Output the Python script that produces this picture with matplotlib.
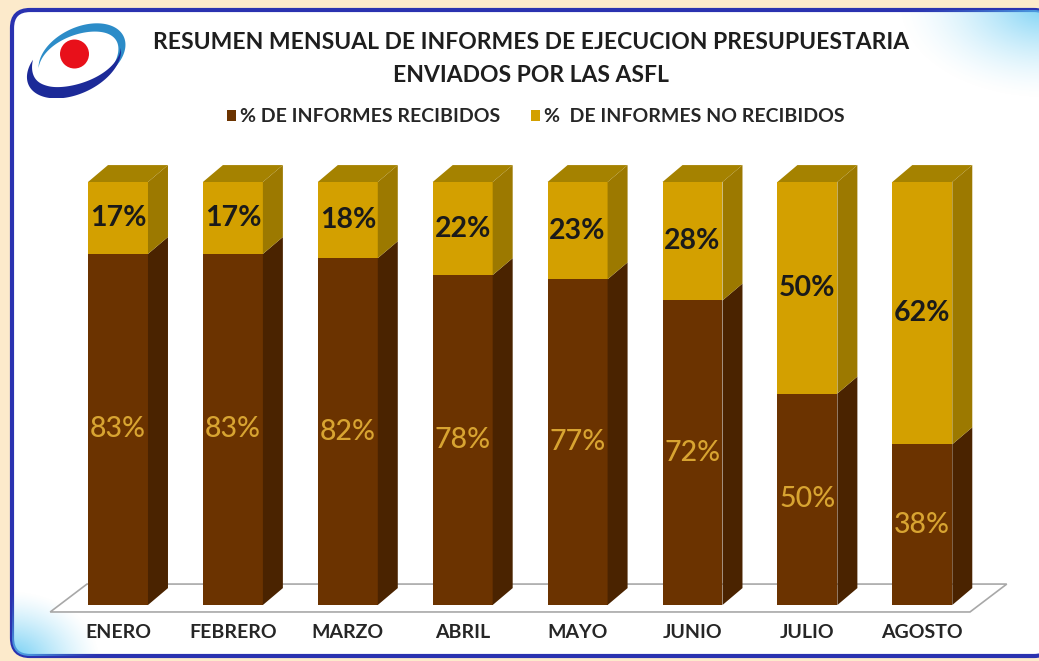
import matplotlib
matplotlib.use('Agg')
import matplotlib.pyplot as plt
import numpy as np
from matplotlib.patches import Polygon, Patch, FancyBboxPatch, Circle

# ***************************** DATOS *****************************
meses = ['ENERO', 'FEBRERO', 'MARZO', 'ABRIL', 'MAYO', 'JUNIO', 'JULIO', 'AGOSTO']
recibidos = [83, 83, 82, 78, 77, 72, 50, 38]
no_recibidos = [17, 17, 18, 22, 23, 28, 50, 62]

titulo = 'RESUMEN MENSUAL DE INFORMES DE EJECUCION PRESUPUESTARIA\nENVIADOS POR LAS ASFL'
leyenda = ['% DE INFORMES RECIBIDOS', '%  DE INFORMES NO RECIBIDOS']

# colores
brown = '#6B3300'
brown_side = '#4A2300'
gold = '#D3A000'
gold_side = '#9C7900'
gold_top = '#A58200'

plt.rcParams['font.family'] = ['Lato', 'DejaVu Sans']

W, H = 1039, 661
fig = plt.figure(figsize=(W / 100, H / 100), dpi=100)
fig.patch.set_facecolor('#FCEACB')

# ***************************** FONDO / MARCO *****************************
bg = fig.add_axes([0, 0, 1, 1])
bg.set_xlim(0, W)
bg.set_ylim(H, 0)
bg.axis('off')

frame = FancyBboxPatch((12, 10), 1040, 646, boxstyle='round,pad=0,rounding_size=18',
                       facecolor='white', edgecolor='#2A32B0', linewidth=3, zorder=1)
bg.add_patch(frame)

# degradados celestes en esquinas
yy, xx = np.mgrid[0:H, 0:W]
grad = np.zeros((H, W, 4))
grad[..., 0] = 0.35
grad[..., 1] = 0.78
grad[..., 2] = 0.95
d1 = np.hypot((xx - 10) / 90.0, (yy - 660) / 70.0)
d2 = np.hypot((xx - 1045) / 150.0, (yy - 5) / 95.0)
grad[..., 3] = np.clip(1 - d1, 0, 1) ** 1.3 * 0.9 + np.clip(1 - d2, 0, 1) ** 1.6 * 0.8
im = bg.imshow(grad, extent=(0, W, H, 0), zorder=2, interpolation='bilinear')
im.set_clip_path(frame)
bg.set_xlim(0, W)
bg.set_ylim(H, 0)

# ***************************** LOGO *****************************
lg = fig.add_axes([18 / W, 1 - 98 / H, 120 / W, 80 / H])
lg.set_xlim(0, 120)
lg.set_ylim(0, 80)
lg.axis('off')


def crescent(cx, cy, a, b, rot, t0, t1, maxw, color, peak=0.5):
    t = np.linspace(t0, t1, 100)
    u = (t - t0) / (t1 - t0)
    prof = np.where(u < peak, np.sin(np.pi / 2 * u / peak), np.sin(np.pi / 2 * (1 - u) / (1 - peak)))
    w = maxw * prof
    c, s = np.cos(rot), np.sin(rot)
    ox, oy = a * np.cos(t), b * np.sin(t)
    ix, iy = (a - w) * np.cos(t), (b - w) * np.sin(t)
    px = np.concatenate([ox, ix[::-1]])
    py = np.concatenate([oy, iy[::-1]])
    pts = np.column_stack([cx + c * px - s * py, cy + s * px + c * py])
    lg.add_patch(Polygon(pts, closed=True, facecolor=color, edgecolor='none'))


rot = np.radians(25)
crescent(64, 42, 46, 29, rot, np.radians(-75), np.radians(165), 9, '#2C8CC8', peak=0.4)
crescent(56, 34, 50, 30, rot, np.radians(135), np.radians(350), 12, '#1C2A98', peak=0.35)
lg.add_patch(Circle((56.5, 44), 14.5, facecolor='#E8101A', edgecolor='none'))

# ***************************** TITULO *****************************
fig.text(531 / W, 1 - 59 / H, titulo, ha='center', va='center', fontsize=16.5,
         fontweight='bold', color='#1E1E1E', linespacing=1.7)

# ***************************** GRAFICO *****************************
x0_px, step_px = 118, 114.9
y0_px, h100_px = 605, 423
left_px, right_px, top_px, bot_px = 30, 1025, 150, 652
ax = fig.add_axes([left_px / W, 1 - bot_px / H, (right_px - left_px) / W, (bot_px - top_px) / H])
ax.set_xlim((left_px - x0_px) / step_px, (right_px - x0_px) / step_px)
ax.set_ylim((y0_px - bot_px) / h100_px * 100, (y0_px - top_px) / h100_px * 100)
ax.axis('off')
ax.patch.set_alpha(0)

x = np.arange(len(meses))
rec = np.array(recibidos)
no = np.array(no_recibidos)
width = 0.522
dx, dy = 0.174, 4.0

# piso
fl, fr = -0.59, len(meses) - 1 + 0.415
fy = -1.65
fdx, fdy = 0.32, 6.6
ax.add_patch(Polygon([(fl, fy), (fr, fy), (fr + fdx, fy + fdy), (fl + fdx, fy + fdy)],
                     closed=True, facecolor='white', edgecolor='#A8A8A8', linewidth=1.2, zorder=1))

ax.bar(x, rec, width, color=brown, zorder=3)
ax.bar(x, no, width, bottom=rec, color=gold, zorder=3)

for xi, r, n in zip(x, rec, no):
    xr = xi + width / 2
    ax.add_patch(Polygon([(xr, 0), (xr + dx, dy), (xr + dx, r + dy), (xr, r)],
                         closed=True, facecolor=brown_side, edgecolor='none', zorder=3))
    ax.add_patch(Polygon([(xr, r), (xr + dx, r + dy), (xr + dx, r + n + dy), (xr, r + n)],
                         closed=True, facecolor=gold_side, edgecolor='none', zorder=3))
    top = r + n
    ax.add_patch(Polygon([(xi - width / 2, top), (xr, top), (xr + dx, top + dy),
                          (xi - width / 2 + dx, top + dy)],
                         closed=True, facecolor=gold_top, edgecolor='none', zorder=3))
    ax.text(xi, r / 2, f'{r}%', ha='center', va='center', fontsize=20.5,
            fontweight='medium', color='#D8A431', zorder=5)
    ax.text(xi, r + n / 2, f'{n}%', ha='center', va='center', fontsize=20.5,
            fontweight='bold', color='#1A1A1A', zorder=5)
    ax.text(xi, -6.6, meses[xi], ha='center', va='center', fontsize=14,
            fontweight='bold', color='#262626', clip_on=False)

handles = [Patch(facecolor=brown, label=leyenda[0]), Patch(facecolor=gold, label=leyenda[1])]
fig.legend(handles=handles, loc='center', bbox_to_anchor=(536 / W, 1 - 117 / H), ncol=2,
           frameon=False, prop={'weight': 'bold', 'size': 14},
           handlelength=0.45, handleheight=0.45, handletextpad=0.2, columnspacing=1.6,
           labelcolor='#262626')

fig.savefig('out.png', dpi=100, facecolor=fig.get_facecolor())
